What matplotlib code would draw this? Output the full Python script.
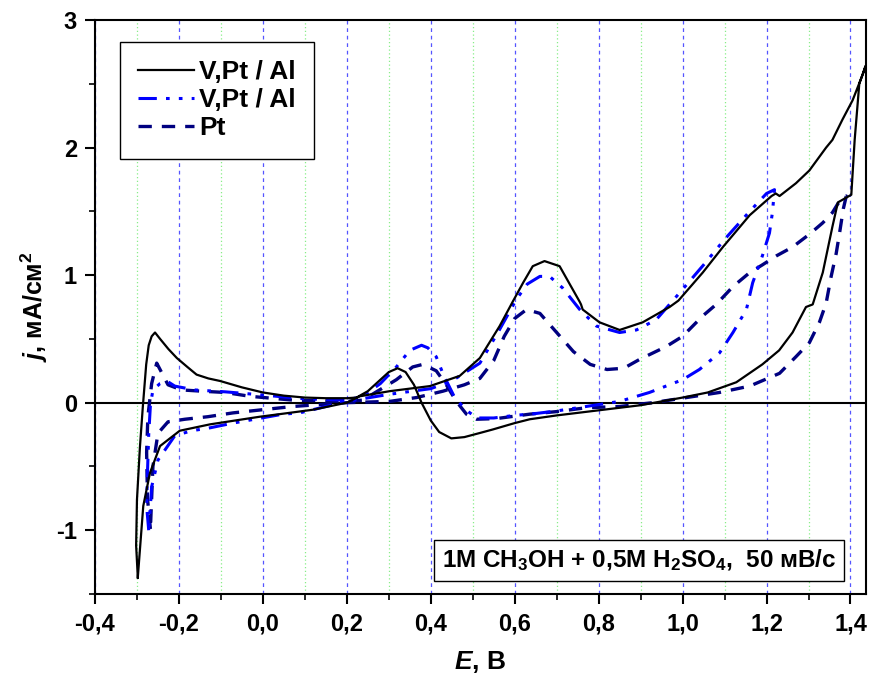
import matplotlib
matplotlib.use("Agg")
import matplotlib.pyplot as plt
from matplotlib.ticker import MultipleLocator, FuncFormatter
from matplotlib import font_manager as fm

plt.rcParams['font.family'] = ['Liberation Sans', 'DejaVu Sans']
plt.rcParams['font.weight'] = 'bold'
plt.rcParams['mathtext.fontset'] = 'custom'
plt.rcParams['mathtext.rm'] = 'Liberation Sans:bold'
plt.rcParams['mathtext.it'] = 'Liberation Sans:italic:bold'
plt.rcParams['mathtext.bf'] = 'Liberation Sans:bold'

names = {f.name for f in fm.fontManager.ttflist}
narrow = 'Liberation Sans Narrow' if 'Liberation Sans Narrow' in names else 'Liberation Sans'

# ---- data: V,Pt / Al (solid black) ----
E_black = [-0.298, -0.302, -0.300, -0.293, -0.286, -0.278, -0.272, -0.265, -0.257, -0.245,
           -0.225, -0.205, -0.18, -0.158, -0.13, -0.102, -0.05, 0.0, 0.05, 0.1,
           0.15, 0.2, 0.223, 0.25, 0.28, 0.30, 0.321, 0.34, 0.36, 0.378,
           0.40, 0.42, 0.449, 0.48, 0.52, 0.548, 0.6, 0.636, 0.7, 0.8,
           0.9, 1.0, 1.06, 1.128, 1.19, 1.23, 1.262, 1.294, 1.31, 1.334,
           1.357, 1.37, 1.402, 1.41, 1.421, 1.436, 1.43, 1.405, 1.381, 1.357,
           1.342, 1.302, 1.27, 1.231, 1.222, 1.212, 1.16, 1.096, 1.048, 0.99,
           0.969, 0.905, 0.85, 0.802, 0.762, 0.758, 0.755, 0.707, 0.671, 0.643,
           0.62, 0.595, 0.564, 0.517, 0.469, 0.398, 0.302, 0.231, 0.2, 0.12,
           0.04, -0.007, -0.126, -0.198, -0.245, -0.269, -0.285, -0.298]
j_black = [-1.37, -1.12, -0.76, -0.35, -0.03, 0.30, 0.45, 0.52, 0.55, 0.50,
           0.42, 0.35, 0.28, 0.22, 0.19, 0.17, 0.12, 0.08, 0.055, 0.04,
           0.035, 0.035, 0.04, 0.09, 0.18, 0.24, 0.27, 0.24, 0.14, 0.0,
           -0.14, -0.23, -0.28, -0.27, -0.235, -0.21, -0.16, -0.13, -0.10, -0.06,
           -0.02, 0.04, 0.08, 0.16, 0.30, 0.41, 0.55, 0.75, 0.77, 1.02,
           1.38, 1.57, 1.63, 2.06, 2.50, 2.64, 2.58, 2.37, 2.22, 2.06,
           2.00, 1.82, 1.72, 1.62, 1.64, 1.62, 1.47, 1.22, 1.02, 0.80,
           0.75, 0.63, 0.57, 0.63, 0.73, 0.77, 0.79, 1.07, 1.11, 1.07,
           0.94, 0.79, 0.60, 0.35, 0.21, 0.13, 0.09, 0.05, 0.0, -0.055,
           -0.09, -0.11, -0.17, -0.22, -0.34, -0.55, -0.81, -1.37]

# ---- data: V,Pt / Al (blue dash-dot-dot) ----
E_blue = [-0.272, -0.277, -0.275, -0.272, -0.268, -0.262, -0.245, -0.229, -0.21, -0.163,
          -0.09, 0.0, 0.1, 0.2, 0.238, 0.28, 0.318, 0.35, 0.378, 0.393,
          0.413, 0.43, 0.457, 0.485, 0.51, 0.55, 0.6, 0.65, 0.7, 0.77,
          0.85, 0.921, 1.0, 1.04, 1.088, 1.12, 1.152, 1.167, 1.19, 1.207,
          1.214, 1.219, 1.20, 1.16, 1.10, 1.05, 0.99, 0.937, 0.89, 0.85,
          0.795, 0.755, 0.714, 0.683, 0.66, 0.63, 0.604, 0.56, 0.517, 0.45,
          0.40, 0.30, 0.2, 0.088, 0.048, -0.071, -0.13, -0.17, -0.21, -0.25,
          -0.265, -0.272]
j_blue = [-1.00, -0.81, -0.55, -0.25, -0.02, 0.10, 0.15, 0.17, 0.13, 0.10,
          0.085, 0.06, 0.03, 0.02, 0.05, 0.15, 0.28, 0.41, 0.45, 0.43,
          0.36, 0.22, 0.04, -0.06, -0.12, -0.12, -0.10, -0.085, -0.065, -0.03,
          0.01, 0.08, 0.18, 0.26, 0.39, 0.55, 0.73, 0.94, 1.15, 1.33,
          1.49, 1.67, 1.64, 1.50, 1.28, 1.08, 0.85, 0.65, 0.57, 0.55,
          0.60, 0.73, 0.90, 0.99, 0.99, 0.93, 0.81, 0.55, 0.31, 0.17,
          0.11, 0.065, 0.01, -0.08, -0.09, -0.16, -0.20, -0.22, -0.26, -0.45,
          -0.66, -1.00]

# ---- data: Pt (navy dashed) ----
E_pt = [-0.268, -0.275, -0.277, -0.274, -0.265, -0.253, -0.245, -0.226, -0.194, -0.146,
        -0.09, -0.031, 0.071, 0.2, 0.238, 0.318, 0.357, 0.381, 0.413, 0.437,
        0.461, 0.485, 0.509, 0.556, 0.636, 0.7, 0.77, 0.85, 0.929, 1.009,
        1.088, 1.16, 1.231, 1.27, 1.302, 1.326, 1.342, 1.354, 1.366, 1.374,
        1.383, 1.39, 1.37, 1.357, 1.334, 1.302, 1.262, 1.223, 1.19, 1.16,
        1.12, 1.08, 1.048, 1.0, 0.961, 0.898, 0.86, 0.82, 0.78, 0.74,
        0.70, 0.66, 0.628, 0.60, 0.575, 0.55, 0.517, 0.48, 0.429, 0.366,
        0.302, 0.2, 0.071, -0.071, -0.131, -0.186, -0.226, -0.25, -0.262, -0.268]
j_pt = [-0.99, -0.75, -0.39, -0.11, 0.15, 0.31, 0.26, 0.14, 0.10, 0.09,
        0.08, 0.05, 0.02, 0.01, 0.02, 0.18, 0.28, 0.30, 0.25, 0.14,
        0.01, -0.09, -0.13, -0.125, -0.09, -0.07, -0.04, -0.03, 0.0, 0.04,
        0.08, 0.13, 0.23, 0.36, 0.47, 0.63, 0.78, 0.99, 1.17, 1.33,
        1.52, 1.62, 1.56, 1.49, 1.41, 1.32, 1.22, 1.15, 1.08, 1.02,
        0.91, 0.77, 0.68, 0.52, 0.44, 0.34, 0.27, 0.26, 0.30, 0.40,
        0.55, 0.70, 0.73, 0.66, 0.52, 0.33, 0.19, 0.14, 0.09, 0.04,
        0.01, 0.0, -0.03, -0.08, -0.11, -0.13, -0.15, -0.24, -0.50, -0.99]

labels = ["V,Pt / Al", "V,Pt / Al", "Pt"]
x_ticks = [-0.4, -0.2, 0.0, 0.2, 0.4, 0.6, 0.8, 1.0, 1.2, 1.4]
y_ticks = [-1, 0, 1, 2, 3]

fig = plt.figure(figsize=(8.69, 6.80), dpi=100)
ax = fig.add_axes([95/869, 1 - 594/680, 771/869, 574/680])

ax.set_xlim(-0.4, 1.437)
ax.set_ylim(-1.5, 3.0)

# grid lines
for xv in x_ticks:
    ax.axvline(xv, color='#5555ff', lw=0.9, ls=(0, (3, 3)), zorder=0)
for xv in [-0.3, -0.1, 0.1, 0.3, 0.5, 0.7, 0.9, 1.1, 1.3]:
    ax.axvline(xv, color='#88ee88', lw=0.9, ls=(0, (1, 2)), zorder=0)
ax.axhline(0, color='black', lw=1.5, zorder=1)

ax.plot(E_black, j_black, color='black', lw=1.6, label=labels[0], zorder=4)
ax.plot(E_blue, j_blue, color='#0000ff', lw=2.2,
        ls=(0, (6, 3, 1.2, 3, 1.2, 3)), label=labels[1], zorder=3)
ax.plot(E_pt, j_pt, color='#000080', lw=2.4, ls=(0, (4, 3)), label=labels[2], zorder=2)

ax.set_xticks(x_ticks)
ax.set_yticks(y_ticks)
ax.xaxis.set_minor_locator(MultipleLocator(0.1))
ax.yaxis.set_minor_locator(MultipleLocator(0.5))
ax.xaxis.set_major_formatter(FuncFormatter(lambda v, p: ("%.1f" % v).replace('.', ',')))
ax.yaxis.set_major_formatter(FuncFormatter(lambda v, p: "%d" % round(v)))
ax.tick_params(which='major', direction='out', length=7, width=1.5, pad=6)
ax.tick_params(which='minor', direction='out', length=4, width=1.2)
for lab in ax.get_xticklabels() + ax.get_yticklabels():
    lab.set_fontweight('bold')
    lab.set_family([narrow, 'DejaVu Sans'])
    lab.set_fontsize(17)
for sp in ax.spines.values():
    sp.set_linewidth(1.5)

ax.set_xlabel(r"$\mathit{E}$, В", fontsize=19, fontweight='bold', labelpad=10)
ax.set_ylabel(r"$\mathit{j}$, мА/см$^2$", fontsize=18, fontweight='bold', labelpad=4)

leg = ax.legend(loc='upper left', bbox_to_anchor=(0.032, 0.962), borderaxespad=0,
                fancybox=False, edgecolor='black', framealpha=1,
                handlelength=2.1, labelspacing=0.15, borderpad=0.7, handletextpad=0.2,
                prop={'weight': 'bold', 'size': 19})
leg.get_frame().set_linewidth(1.0)

ax.text(0.7056, 0.0584, "1M CH$_3$OH + 0,5M H$_2$SO$_4$,  50 мВ/с",
        transform=ax.transAxes, ha='center', va='center', fontsize=17.5, fontweight='bold',
        bbox=dict(boxstyle='square,pad=0.3', facecolor='white', edgecolor='black', lw=1.0),
        zorder=6)

fig.savefig("out.png", dpi=100)
